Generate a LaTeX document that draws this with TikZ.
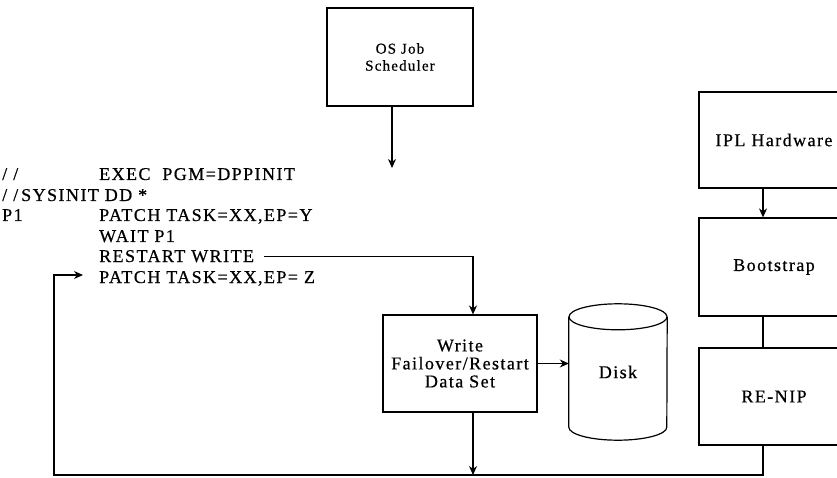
\documentclass[tikz,border=0pt]{standalone}
\usepackage{fontspec}
\setmainfont{Liberation Serif}
\newfontfamily\codefont[LetterSpace=8,FakeBold=0.6]{Liberation Serif}
\usetikzlibrary{arrows.meta,calc,positioning}

\begin{document}
\begin{tikzpicture}[x=1pt,y=-1pt,
    box/.style={draw,line width=1.2pt,align=center,inner sep=2pt,font=\codefont\fontsize{18}{18}\selectfont},
    code/.style={anchor=base west,inner sep=0pt,font=\codefont\fontsize{18}{19}\selectfont},
    link/.style={line width=1.2pt},
    arr/.style={line width=1.2pt,-{Stealth[length=9pt,width=8pt]}}]
    \clip (0,0) rectangle (837,478);
    % job stream
    \node[code] (s1) at (2,180) {/\,\,/};
    \node[code] (s2) at (2,201) {/\,\,/\,SYSINIT DD *};
    \node[code] (s3) at (2,221) {P1};
    \node[code] (l1) at (99,180) {EXEC\ \ PGM=DPPINIT};
    \node[code] (l3) at (99,221) {PATCH\ TASK=XX,EP=Y};
    \node[code] (l4) at (99,242) {WAIT P1};
    \node[code] (l5) at (99,262) {RESTART WRITE};
    \node[code] (l6) at (99,283) {PATCH\ TASK=XX,EP= Z};
    % boxes
    \node[box,minimum width=146pt,minimum height=98pt,font=\codefont\fontsize{15}{17}\selectfont]
      (os) at (400,57) {OS Job\\Scheduler};
    \node[box,minimum width=154pt,minimum height=97pt,font=\codefont\fontsize{18}{18}\selectfont]
      (write) at (460,363.5) {Write\\Failover/Restart\\Data Set};
    \node[minimum width=98pt,minimum height=136pt,font=\codefont\fontsize{18}{18}\selectfont]
      (disk) at (618,372) {Disk};
    \node[box,minimum width=150pt,minimum height=96pt] (ipl) at (774,140) {IPL Hardware};
    \node[box,minimum width=150pt,minimum height=98pt] (boot) at (774,267) {Bootstrap};
    \node[box,minimum width=150pt,minimum height=97pt] (renip) at (774,396.5) {RE-NIP};
    % disk outline
    \draw[link] ([yshift=-13pt]disk.north) ellipse [x radius=49pt,y radius=13pt];
    \draw[link] ([yshift=-13pt]disk.north west) -- ([yshift=13pt]disk.south west)
      arc [start angle=180,end angle=360,x radius=49pt,y radius=13pt]
      -- ([yshift=-13pt]disk.north east);
    \coordinate (osend) at (392,168);
    \coordinate (join) at (473,475);
    \coordinate (back) at (54,475);
    \coordinate (backend) at (83,275);
    \draw[arr] (os.south -| osend) -- (osend);
    \draw[arr] ([xshift=10pt]l5.east) -| (write.north -| join);
    \draw[arr] (write.east) -- (write.east -| disk.west);
    \draw[arr] (write.south -| join) -- (join);
    \draw[arr] ([xshift=-11pt]ipl.south) -- ([xshift=-11pt]boot.north);
    \draw[link] ([xshift=-11pt]boot.south) -- ([xshift=-11pt]renip.north);
    \draw[arr] ([xshift=-11pt]renip.south) |- (back) |- (backend);
\end{tikzpicture}
\end{document}
